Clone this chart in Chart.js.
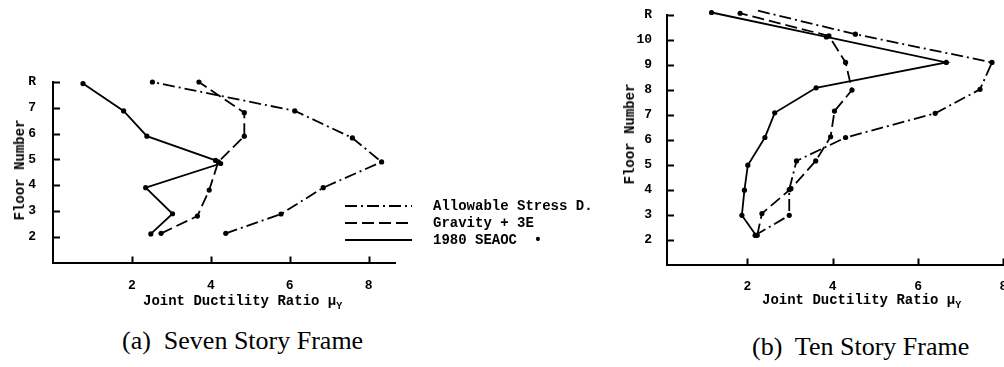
<!DOCTYPE html>
<html>
<head>
<meta charset="utf-8">
<script src="https://cdn.jsdelivr.net/npm/chart.js@4.4.0/dist/chart.umd.min.js"></script>
<style>
  html, body { margin: 0; padding: 0; background: #fff; }
  body { width: 1004px; height: 367px; overflow: hidden; position: relative; }
  canvas { position: absolute; top: 0; }
  #chart-seven { left: 0; }
  #chart-ten { left: 620px; }
  .label { position: absolute; font-family: "Liberation Mono", monospace; font-weight: bold; font-size: 14px; line-height: 14px; white-space: nowrap; color: #000; }
  .label sub { font-size: 10px; vertical-align: -4px; line-height: 0; }
  .vlabel { transform: translate(-50%, -50%) rotate(-90deg); }
  .caption { position: absolute; font-family: "Liberation Serif", serif; font-size: 26px; line-height: 26px; white-space: nowrap; color: #000; }
</style>
</head>
<body>
<canvas id="chart-seven" width="620" height="320"></canvas>
<canvas id="chart-ten" width="400" height="320"></canvas>

<div class="label vlabel" style="left:20px; top:170px;">Floor Number</div>
<div class="label vlabel" style="left:630px; top:134px;">Floor Number</div>
<div class="label" style="left:143px; top:294px;">Joint Ductility Ratio μ<sub>Y</sub></div>
<div class="label" style="left:762px; top:293px;">Joint Ductility Ratio μ<sub>Y</sub></div>
<div class="caption" style="left:122px; top:328px;">(a)&nbsp; Seven Story Frame</div>
<div class="caption" style="left:752px; top:334px;">(b)&nbsp; Ten Story Frame</div>

<script>
// floor ticks and ductility ticks
const sevenFloors = [2, 3, 4, 5, 6, 7, 8];
const sevenFloorLabels = ['2', '3', '4', '5', '6', '7', 'R'];
const tenFloors = [2, 3, 4, 5, 6, 7, 8, 9, 10, 11];
const tenFloorLabels = ['2', '3', '4', '5', '6', '7', '8', '9', '10', 'R'];
const ductilityTicks = [2, 4, 6, 8];

// (a) seven story frame, floor 2 up to roof
const sevenAllowableX = [4.38, 5.78, 6.85, 8.33, 7.59, 6.13, 2.52];
const sevenAllowableY = [2.13, 2.88, 3.90, 4.90, 5.83, 6.88, 8.00];
const sevenGravityX = [2.74, 3.66, 3.96, 4.19, 4.85, 4.85, 3.70];
const sevenGravityY = [2.13, 2.80, 3.81, 4.90, 5.90, 6.81, 8.00];
const sevenSeaocX = [2.48, 3.03, 2.35, 4.25, 4.12, 2.38, 1.79, 0.76];
const sevenSeaocY = [2.11, 2.89, 3.90, 4.84, 4.96, 5.90, 6.88, 7.94];

// (b) ten story frame, floor 2 up to roof
const tenAllowableX = [2.18, 2.98, 2.98, 3.15, 4.30, 6.40, 7.45, 7.73, 4.53, 2.18];
const tenAllowableY = [2.17, 2.97, 4.00, 5.15, 6.09, 7.06, 8.02, 9.10, 10.23, 11.20];
const tenGravityX = [2.23, 2.34, 3.02, 3.60, 3.95, 4.04, 4.45, 4.30, 3.91, 1.83];
const tenGravityY = [2.17, 3.04, 4.04, 5.15, 6.12, 7.15, 7.99, 9.10, 10.16, 11.07];
const tenSeaocX = [2.20, 1.87, 1.93, 2.01, 2.41, 2.64, 3.61, 6.66, 3.85, 1.16];
const tenSeaocY = [2.17, 2.97, 3.98, 4.98, 6.09, 7.08, 8.08, 9.10, 10.12, 11.10];

const seriesLabels = ['Allowable Stress D.', 'Gravity + 3E', '1980 SEAOC  •'];
const dashDot = [12, 4, 2, 4];
const dashed = [12, 5];

const monoFont = { family: 'Liberation Mono', weight: 'bold', size: 13 };

function series(label, xs, ys, dash) {
    return {
        label: label,
        data: xs.map((x, i) => ({ x: x, y: ys[i] })),
        borderColor: '#000',
        backgroundColor: '#000',
        borderWidth: 1.8,
        borderDash: dash,
        pointRadius: 2.6,
        pointHoverRadius: 2.6,
        pointBorderWidth: 0,
        showLine: true,
        tension: 0,
        clip: false
    };
}

// ticks drawn inward from the axis lines
const innerTicks = {
    id: 'innerTicks',
    afterDraw(chart) {
        const { ctx, scales: { x, y } } = chart;
        ctx.save();
        ctx.strokeStyle = '#000';
        ctx.lineWidth = 2;
        ctx.beginPath();
        y.ticks.forEach(t => {
            const py = Math.round(y.getPixelForValue(t.value)) + 0.5;
            ctx.moveTo(y.right, py);
            ctx.lineTo(y.right + 7, py);
        });
        x.ticks.forEach(t => {
            const px = Math.round(x.getPixelForValue(t.value)) + 0.5;
            ctx.moveTo(px, x.top);
            ctx.lineTo(px, x.top - 6);
        });
        ctx.stroke();
        ctx.restore();
    }
};

const figureLegend = {
    id: 'figureLegend',
    afterDraw(chart, args, opts) {
        const ctx = chart.ctx;
        ctx.save();
        ctx.font = 'bold 14px "Liberation Mono"';
        ctx.textBaseline = 'middle';
        ctx.fillStyle = '#000';
        chart.data.datasets.forEach((ds, i) => {
            const ly = opts.y + i * opts.rowGap;
            ctx.setLineDash(ds.borderDash || []);
            ctx.lineWidth = 2;
            ctx.strokeStyle = ds.borderColor;
            ctx.beginPath();
            ctx.moveTo(opts.x, ly);
            ctx.lineTo(opts.x + opts.lineLength, ly);
            ctx.stroke();
            ctx.setLineDash([]);
            ctx.fillText(ds.label, opts.x + opts.lineLength + opts.textGap, ly);
        });
        ctx.restore();
    }
};

function makeChart(canvasId, datasets, cfg) {
    const ctx = document.getElementById(canvasId).getContext('2d');
    return new Chart(ctx, {
        type: 'scatter',
        data: { datasets: datasets },
        plugins: cfg.plugins,
        options: {
            responsive: false,
            animation: false,
            events: [],
            layout: { padding: cfg.padding },
            plugins: Object.assign({ legend: { display: false }, tooltip: { enabled: false } }, cfg.pluginOpts),
            scales: {
                x: {
                    type: 'linear',
                    min: cfg.xMin,
                    max: cfg.xMax,
                    afterFit: s => { s.height = cfg.xHeight; },
                    afterBuildTicks: s => { s.ticks = ductilityTicks.map(v => ({ value: v })); },
                    ticks: { color: '#000', font: monoFont, padding: cfg.xPad, maxRotation: 0 },
                    grid: { display: false },
                    border: { display: true, color: '#000', width: 2 }
                },
                y: {
                    type: 'linear',
                    min: 1,
                    max: cfg.floors[cfg.floors.length - 1],
                    afterFit: s => { s.width = cfg.yWidth; },
                    afterBuildTicks: s => { s.ticks = cfg.floors.map(v => ({ value: v })); },
                    ticks: {
                        color: '#000',
                        font: monoFont,
                        padding: cfg.yPad,
                        callback: v => cfg.floorLabels[cfg.floors.indexOf(v)]
                    },
                    grid: { display: false },
                    border: { display: true, color: '#000', width: 2 }
                }
            }
        }
    });
}

makeChart('chart-seven', [
    series(seriesLabels[0], sevenAllowableX, sevenAllowableY, dashDot),
    series(seriesLabels[1], sevenGravityX, sevenGravityY, dashed),
    series(seriesLabels[2], sevenSeaocX, sevenSeaocY, [])
], {
    plugins: [innerTicks, figureLegend],
    pluginOpts: { figureLegend: { x: 345, y: 206, rowGap: 17, lineLength: 67, textGap: 21 } },
    padding: { top: 82, right: 225, left: 0, bottom: 0 },
    xMin: 0, xMax: 8.67, xHeight: 57.5, xPad: 7,
    yWidth: 53, yPad: 9,
    floors: sevenFloors, floorLabels: sevenFloorLabels
});

makeChart('chart-ten', [
    series(seriesLabels[0], tenAllowableX, tenAllowableY, dashDot),
    series(seriesLabels[1], tenGravityX, tenGravityY, dashed),
    series(seriesLabels[2], tenSeaocX, tenSeaocY, [])
], {
    plugins: [innerTicks],
    pluginOpts: {},
    padding: { top: 15, right: 0, left: 0, bottom: 0 },
    xMin: 0.116, xMax: 8.326, xHeight: 55.5, xPad: 6,
    yWidth: 47, yPad: 7,
    floors: tenFloors, floorLabels: tenFloorLabels
});
</script>
</body>
</html>
